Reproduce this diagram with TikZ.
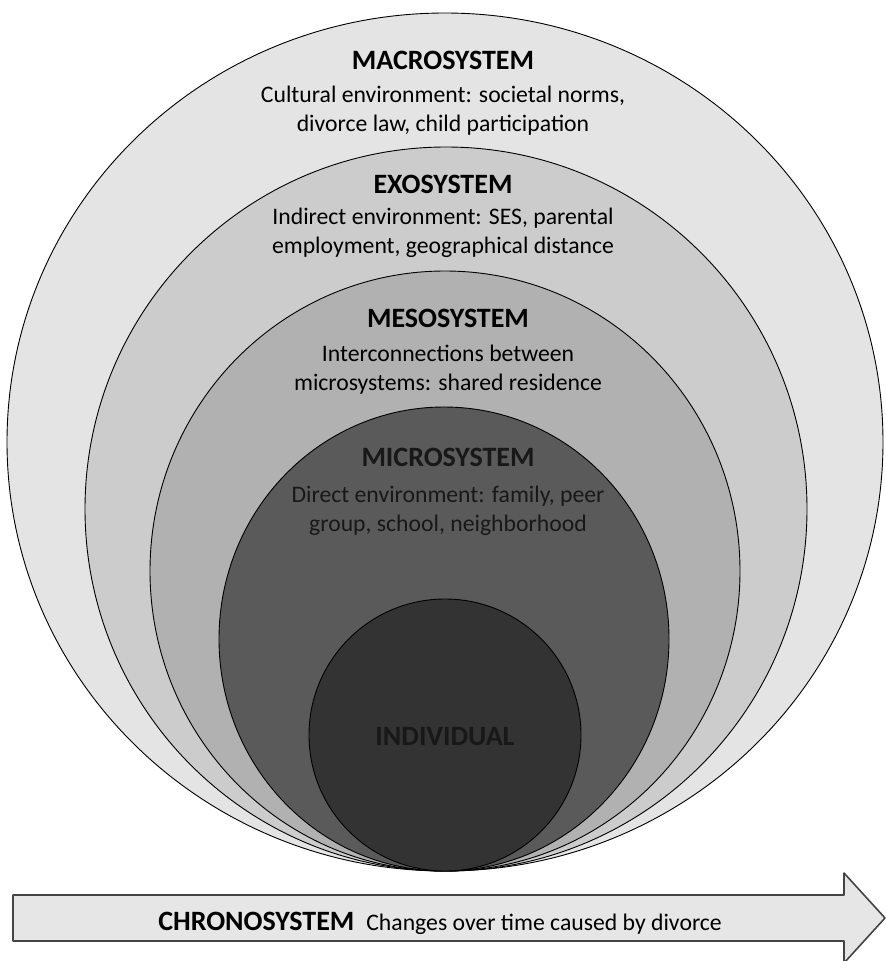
\documentclass[tikz,border=0pt]{standalone}
\usepackage{fontspec}
\setmainfont{Carlito}
\definecolor{macrofill}{HTML}{E4E4E4}
\definecolor{exofill}{HTML}{CCCCCC}
\definecolor{mesofill}{HTML}{B1B1B1}
\definecolor{microfill}{HTML}{5A5A5A}
\definecolor{indivfill}{HTML}{333333}
\definecolor{arrowfill}{HTML}{E6E6E6}
\definecolor{arrowline}{HTML}{444444}
\definecolor{darktext}{HTML}{181818}
\tikzset{
  ring/.style={draw=black, line width=0.9pt},
  title/.style={font=\fontsize{28}{32}\selectfont\bfseries, anchor=base, inner sep=0pt},
  desc/.style={font=\fontsize{23.7}{28.5}\selectfont, align=center, anchor=base, inner sep=0pt}
}
\begin{document}
\begin{tikzpicture}[x=1pt, y=-1pt, line join=round]
	\useasboundingbox (0,0) rectangle (886,961);
	% nested systems, all touching at the bottom
	\draw[ring, fill=macrofill] (445,442) ellipse [x radius=438, y radius=429];
	\draw[ring, fill=exofill] (446,509) ellipse [x radius=361, y radius=362];
	\draw[ring, fill=mesofill] (445,571) ellipse [x radius=295, y radius=300];
	\draw[ring, fill=microfill] (444,639) ellipse [x radius=225, y radius=232];
	\draw[ring, fill=indivfill] (445,735) circle [radius=136];
	% labels (desc nodes sit on the baseline of their last line)
	\node[title] (macro) at (443,69) {MACROSYSTEM};
	\node[desc] (macrotxt) at (443,131) {Cultural environment: societal norms,\\divorce law, child participation};
	\node[title] (exo) at (443,193) {EXOSYSTEM};
	\node[desc] (exotxt) at (443,253) {Indirect environment: SES, parental\\employment, geographical distance};
	\node[title] (meso) at (448,327) {MESOSYSTEM};
	\node[desc] (mesotxt) at (448,390) {Interconnections between\\microsystems: shared residence};
	\node[title, text=darktext] (micro) at (448,466) {MICROSYSTEM};
	\node[desc, text=darktext] (microtxt) at (448,531) {Direct environment: family, peer\\group, school, neighborhood};
	\node[title, text=darktext] (indiv) at (445,745) {INDIVIDUAL};
	% time arrow
	\draw[line width=1.6pt, draw=arrowline, fill=arrowfill] (13,895) -- (844,895) -- (844,873) -- (885,918) -- (844,963) -- (844,941) -- (13,941) -- cycle;
	\node[anchor=base, inner sep=0pt] (chrono) at (440,930) {{\fontsize{28}{32}\selectfont\bfseries CHRONOSYSTEM}\hspace{12pt}{\fontsize{23.7}{28}\selectfont Changes over time caused by divorce}};
\end{tikzpicture}
\end{document}
